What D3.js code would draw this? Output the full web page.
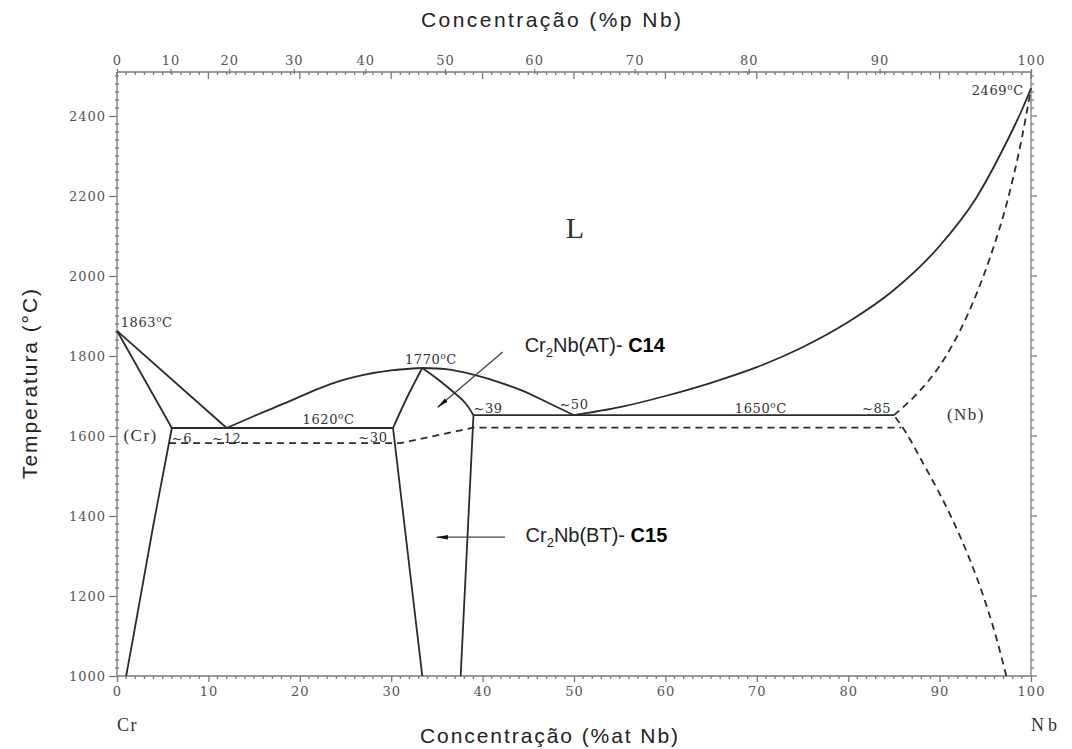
<!DOCTYPE html>
<html>
<head>
<meta charset="utf-8">
<script src="https://cdn.jsdelivr.net/npm/d3@7"></script>
<style>
  body { margin: 0; background: #fff; }
  svg { display: block; }
</style>
</head>
<body>
<svg id="chart" width="1072" height="749"></svg>
<script>
// ---- Cr–Nb phase diagram: boundaries as (at% Nb, °C) ----
const atTicks = [0, 10, 20, 30, 40, 50, 60, 70, 80, 90, 100];
const wtTicks = [0, 10, 20, 30, 40, 50, 60, 70, 80, 90, 100];
const tempTicks = [1000, 1200, 1400, 1600, 1800, 2000, 2200, 2400];

// solid boundaries
const liquidusCr   = [[0, 1863], [12, 1620]];
const solidusCr    = [[0, 1863], [6, 1620]];
const solvusCr     = [[1.0, 1000], [1.8, 1100], [2.9, 1240], [4.0, 1380], [5.0, 1500], [6, 1620]];   // by temperature
const eutecticLow  = [[6, 1620], [30.2, 1620]];
const liquidusLaveLeft  = [[12, 1620], [15, 1650], [18.9, 1687], [22, 1718], [24.4, 1738], [27, 1753], [30, 1764], [33.4, 1770]];
const liquidusLaveRight = [[33.4, 1770], [36, 1767], [39.2, 1752], [42, 1733], [44.4, 1713], [47, 1685], [50, 1652]];
const c14Left      = [[30.2, 1620], [31.6, 1690], [33.4, 1770]];
const c14Right     = [[33.4, 1770], [35.2, 1740], [36.8, 1710], [38.2, 1680], [39, 1652]];
const c15Left      = [[30.2, 1620], [33.4, 1000]];
const c15Right     = [[37.6, 1000], [39, 1652]];
const eutecticHigh = [[39, 1652], [85, 1652]];
const liquidusNb   = [[50, 1652], [55, 1672], [60, 1700], [65, 1733], [70, 1772], [75, 1822], [80, 1885], [85, 1965], [90, 2075], [94, 2195], [97, 2320], [99, 2415], [100, 2469]];

// dashed (estimated) boundaries
const solidusNb    = [[85, 1652], [87.5, 1705], [90, 1775], [93, 1900], [95.5, 2045], [97.5, 2195], [99, 2345], [100, 2469]];
const solvusNb     = [[97.3, 1000], [95.5, 1150], [93.5, 1280], [90.8, 1420], [88, 1540], [86, 1620], [85, 1652]];   // by temperature
const c14c15Line   = [[5.7, 1582], [31, 1582], [39, 1621], [85.8, 1621]];

// annotations: text, at%, °C, anchor
const pointLabels = [
  { text: "1863°C", at: 0.4,  t: 1872, anchor: "start" },
  { text: "1770°C", at: 31.5, t: 1780, anchor: "start" },
  { text: "1620°C", at: 20.3, t: 1630, anchor: "start" },
  { text: "1650°C", at: 67.6, t: 1657, anchor: "start" },
  { text: "2469°C", at: 99.2, t: 2452, anchor: "end" },
  { text: "~6",  at: 6.0,  t: 1582, anchor: "start" },
  { text: "~12", at: 10.4, t: 1582, anchor: "start" },
  { text: "~30", at: 26.4, t: 1585, anchor: "start" },
  { text: "~39", at: 39.0, t: 1657, anchor: "start" },
  { text: "~50", at: 48.4, t: 1667, anchor: "start" },
  { text: "~85", at: 81.5, t: 1657, anchor: "start" }
];
const phaseLabels = [
  { text: "(Cr)", at: 0.7,  t: 1587, size: 17 },
  { text: "(Nb)", at: 90.8, t: 1640, size: 17 },
  { text: "L",    at: 49.1, t: 2095, size: 30 }
];

// ---- scales ----
const x = d3.scaleLinear().domain([0, 100]).range([117, 1031]);
const y = d3.scaleLinear().domain([1000, 2510]).range([676, 72]);

const M_CR = 51.996, M_NB = 92.906;
const atFromWt = w => {
  const nb = w / M_NB, cr = (100 - w) / M_CR;
  return 100 * nb / (nb + cr);
};

const svg = d3.select("#chart");
const axisColor = "#7a7a7a";
const lineColor = "#2b2b2b";
const serif = "'DejaVu Serif', serif";
const sans = "'Liberation Sans', Arial, sans-serif";

// ---- frame / axes ----
const x0 = x(0), x1 = x(100), yB = y(1000), yT = y(2510);
const frame = svg.append("g").attr("stroke", axisColor).attr("stroke-width", 1.3);
frame.append("line").attr("x1", x0).attr("x2", x1).attr("y1", yB).attr("y2", yB);
frame.append("line").attr("x1", x0).attr("x2", x1).attr("y1", yT).attr("y2", yT);
frame.append("line").attr("x1", x0).attr("x2", x0).attr("y1", yT).attr("y2", yB);
frame.append("line").attr("x1", x1).attr("x2", x1).attr("y1", yT).attr("y2", yB);

const minorAt = d3.range(0, 101, 1).filter(v => v % 10 !== 0);
const minorT = d3.range(1000, 2510, 20).filter(v => v % 200 !== 0);

// bottom axis
const bottomAxis = d3.axisBottom(x).tickValues(atTicks).tickSize(6).tickPadding(5)
  .tickFormat(d3.format("d"));
const gB = svg.append("g").attr("transform", `translate(0,${yB})`).call(bottomAxis);
gB.select(".domain").remove();
svg.append("g").selectAll("line").data(minorAt).join("line")
  .attr("x1", d => x(d)).attr("x2", d => x(d))
  .attr("y1", yB).attr("y2", yB + 3)
  .attr("stroke", axisColor).attr("stroke-width", 1.3);

// top axis: inward at% ticks
svg.append("g").selectAll("line").data(atTicks.concat(minorAt)).join("line")
  .attr("x1", d => x(d)).attr("x2", d => x(d))
  .attr("y1", yT).attr("y2", d => yT + (d % 10 === 0 ? 7 : 3))
  .attr("stroke", axisColor).attr("stroke-width", 1.3);
// top axis: wt% scale
const topAxis = d3.axisTop(x).tickValues(wtTicks.map(atFromWt)).tickSize(5).tickPadding(4)
  .tickFormat((d, i) => wtTicks[i]);
const gT = svg.append("g").attr("transform", `translate(0,${yT + 2})`).call(topAxis);
gT.select(".domain").remove();

// left axis
const leftAxis = d3.axisLeft(y).tickValues(tempTicks).tickSize(8).tickPadding(3)
  .tickFormat(d3.format("d"));
const gL = svg.append("g").attr("transform", `translate(${x0},0)`).call(leftAxis);
gL.select(".domain").remove();
svg.append("g").selectAll("line").data(minorT).join("line")
  .attr("x1", x0 - 2).attr("x2", x0 + 2)
  .attr("y1", d => y(d)).attr("y2", d => y(d))
  .attr("stroke", axisColor).attr("stroke-width", 1.3);

// right axis (ticks only)
svg.append("g").selectAll("line").data(tempTicks.concat(minorT)).join("line")
  .attr("x1", x1).attr("x2", d => x1 + (d % 200 === 0 ? 6 : 3))
  .attr("y1", d => y(d)).attr("y2", d => y(d))
  .attr("stroke", axisColor).attr("stroke-width", 1.3);

[gB, gT, gL].forEach(g => {
  g.selectAll(".tick line").attr("stroke", axisColor).attr("stroke-width", 1.3);
  g.selectAll(".tick text")
    .attr("fill", "#555").attr("font-family", serif).attr("font-size", 13)
    .attr("letter-spacing", 1);
});

// ---- phase boundaries ----
const lineGen = d3.line().x(d => x(d[0])).y(d => y(d[1]));
const smoothX = d3.line().x(d => x(d[0])).y(d => y(d[1])).curve(d3.curveMonotoneX);
const smoothY = d3.line().x(d => x(d[0])).y(d => y(d[1])).curve(d3.curveMonotoneY);

const solidX = [liquidusLaveLeft, liquidusLaveRight, c14Left, c14Right, liquidusNb];
const solidStraight = [liquidusCr, solidusCr, eutecticLow, c15Left, c15Right, eutecticHigh];

const gLines = svg.append("g").attr("fill", "none").attr("stroke", lineColor)
  .attr("stroke-width", 1.8).attr("stroke-linejoin", "round");
solidStraight.forEach(d => gLines.append("path").attr("d", lineGen(d)));
solidX.forEach(d => gLines.append("path").attr("d", smoothX(d)));
gLines.append("path").attr("d", smoothY(solvusCr));

gLines.append("path").attr("stroke-dasharray", "7,5").attr("d", smoothX(solidusNb));
gLines.append("path").attr("stroke-dasharray", "7,5").attr("d", smoothY(solvusNb));
gLines.append("path").attr("stroke-dasharray", "7,5").attr("d", lineGen(c14c15Line));

// ---- annotations ----
function degreeText(sel, str, size) {
  const parts = str.split("°");
  sel.append("tspan").text(parts[0]);
  if (parts.length > 1) {
    sel.append("tspan").attr("font-size", size * 0.68).attr("dy", -size * 0.42).text("o");
    sel.append("tspan").attr("dy", size * 0.42).text(parts[1]);
  }
}
pointLabels.forEach(p => {
  const t = svg.append("text")
    .attr("x", x(p.at)).attr("y", y(p.t))
    .attr("text-anchor", p.anchor)
    .attr("font-family", serif).attr("font-size", 13)
    .attr("letter-spacing", 0.6).attr("fill", "#333");
  degreeText(t, p.text, 13);
});
phaseLabels.forEach(p => {
  svg.append("text")
    .attr("x", x(p.at)).attr("y", y(p.t))
    .attr("font-family", "'Liberation Serif', serif")
    .attr("font-size", p.size).attr("letter-spacing", p.size > 20 ? 0 : 1.5)
    .attr("fill", "#333").text(p.text);
});

// component labels under the axis
svg.append("text").attr("x", x(0)).attr("y", 731)
  .attr("font-family", "'Liberation Serif', serif").attr("font-size", 18)
  .attr("letter-spacing", 1.5).attr("fill", "#333").text("Cr");
svg.append("text").attr("x", x(100)).attr("y", 731)
  .attr("font-family", "'Liberation Serif', serif").attr("font-size", 18)
  .attr("letter-spacing", 4).attr("fill", "#333").text("Nb");

// phase callouts with arrows
const defs = svg.append("defs");
defs.append("marker").attr("id", "head")
  .attr("viewBox", "0 0 12 6").attr("refX", 11).attr("refY", 3)
  .attr("markerWidth", 12).attr("markerHeight", 6)
  .attr("markerUnits", "userSpaceOnUse").attr("orient", "auto")
  .append("path").attr("d", "M0,0.8 L12,3 L0,5.2 Z").attr("fill", "#111");

const callouts = [
  { phase: "Cr", sub: "2", rest: "Nb(AT)- ", bold: "C14", at: 44.6, t: 1810, from: [42.2, 1810], to: [35.1, 1672] },
  { phase: "Cr", sub: "2", rest: "Nb(BT)- ", bold: "C15", at: 44.7, t: 1335, from: [42.45, 1347], to: [35.0, 1347] }
];
callouts.forEach(c => {
  svg.append("line")
    .attr("x1", x(c.from[0])).attr("y1", y(c.from[1]))
    .attr("x2", x(c.to[0])).attr("y2", y(c.to[1]))
    .attr("stroke", "#444").attr("stroke-width", 1.3)
    .attr("marker-end", "url(#head)");
  const t = svg.append("text").attr("x", x(c.at)).attr("y", y(c.t))
    .attr("font-family", sans).attr("font-size", 20).attr("fill", "#222");
  t.append("tspan").text(c.phase);
  t.append("tspan").attr("font-size", 13).attr("dy", 5).text(c.sub);
  t.append("tspan").attr("dy", -5).text(c.rest);
  t.append("tspan").attr("font-weight", "bold").attr("fill", "#000").text(c.bold);
});

// ---- axis titles ----
svg.append("text").attr("x", 551).attr("y", 27).attr("text-anchor", "middle")
  .attr("font-family", sans).attr("font-size", 21).attr("fill", "#222")
  .attr("textLength", 260).attr("lengthAdjust", "spacing")
  .text("Concentração (%p Nb)");
svg.append("text").attr("x", 549).attr("y", 743).attr("text-anchor", "middle")
  .attr("font-family", sans).attr("font-size", 21).attr("fill", "#222")
  .attr("textLength", 258).attr("lengthAdjust", "spacing")
  .text("Concentração (%at Nb)");
svg.append("text")
  .attr("transform", `translate(37,384) rotate(-90)`)
  .attr("text-anchor", "middle")
  .attr("font-family", sans).attr("font-size", 21).attr("fill", "#222")
  .attr("textLength", 190).attr("lengthAdjust", "spacing")
  .text("Temperatura (°C)");
</script>
</body>
</html>
